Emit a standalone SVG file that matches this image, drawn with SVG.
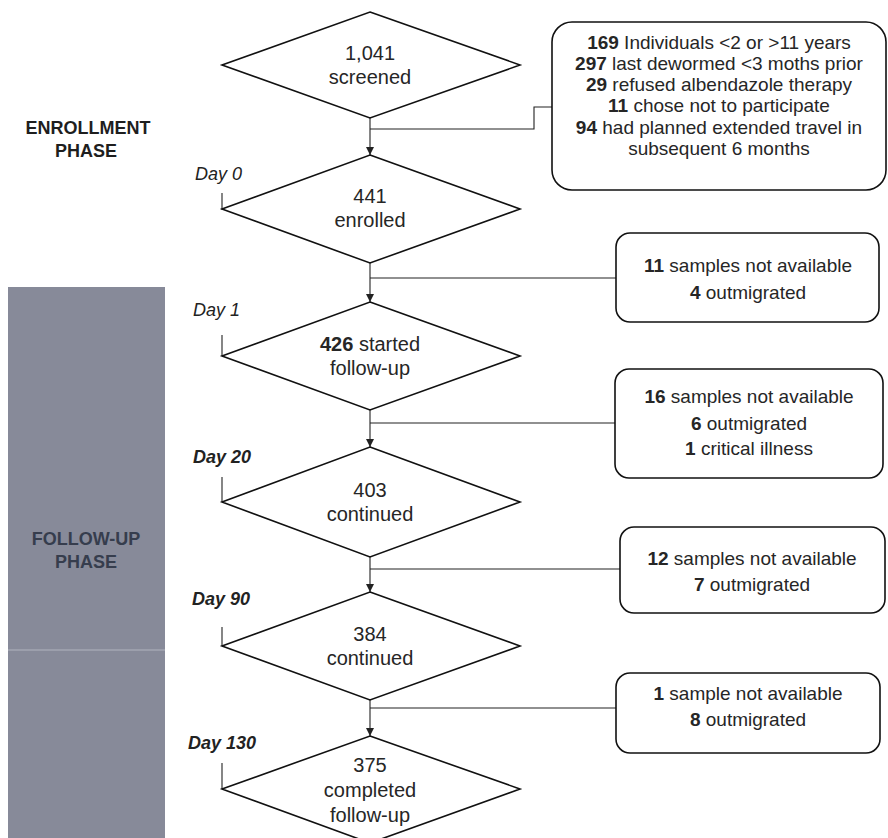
<svg xmlns="http://www.w3.org/2000/svg" width="888" height="838" viewBox="0 0 888 838">
<style>
.d{fill:#fff;stroke:#111;stroke-width:1.6;stroke-linejoin:miter}
.b{fill:#fff;stroke:#111;stroke-width:1.6}
.c{fill:none;stroke:#222;stroke-width:1.1}
.t{font-family:"Liberation Sans",Arial,sans-serif;fill:#262626;text-anchor:middle}
.dt{font-size:20px}
.bt{font-size:19px}
.day{font-family:"Liberation Sans",Arial,sans-serif;font-style:italic;font-size:18px;fill:#222}
.ph{font-family:"Liberation Sans",Arial,sans-serif;font-weight:bold;font-size:18px;text-anchor:middle}
.n{font-weight:bold}
</style>
<defs>
<marker id="ah" viewBox="0 0 10 10" refX="10" refY="5" markerWidth="8" markerHeight="8" markerUnits="userSpaceOnUse" orient="auto">
<path d="M0,0 L10,5 L0,10 Z" fill="#222"/>
</marker>
</defs>
<rect width="888" height="838" fill="#fff"/>

<g id="enrollment-phase">
<text class="ph" x="88" y="134" fill="#1e1e1e">ENROLLMENT</text>
<text class="ph" x="86" y="157" fill="#1e1e1e">PHASE</text>
</g>

<g id="followup-phase">
<rect x="8" y="287" width="157" height="551" fill="#878a99"/>
<line x1="8" y1="650" x2="165" y2="650" stroke="#a3a6b3" stroke-width="1.5"/>
<text class="ph" x="86" y="545" fill="#363d4d">FOLLOW-UP</text>
<text class="ph" x="86" y="568" fill="#363d4d">PHASE</text>
</g>

<g id="connectors">
<line class="c" x1="370" y1="118" x2="370" y2="155" marker-end="url(#ah)"/>
<polyline class="c" points="370,129 534,129 534,107 552,107"/>
<line class="c" x1="370" y1="263" x2="370" y2="302" marker-end="url(#ah)"/>
<line class="c" x1="370" y1="278" x2="616" y2="278"/>
<line class="c" x1="370" y1="410" x2="370" y2="447" marker-end="url(#ah)"/>
<line class="c" x1="370" y1="423" x2="615" y2="423"/>
<line class="c" x1="370" y1="557" x2="370" y2="592" marker-end="url(#ah)"/>
<line class="c" x1="370" y1="569" x2="620" y2="569"/>
<line class="c" x1="370" y1="700" x2="370" y2="736" marker-end="url(#ah)"/>
<line class="c" x1="370" y1="708" x2="616" y2="708"/>
<line class="c" x1="222" y1="193" x2="222" y2="210"/>
<line class="c" x1="222" y1="335" x2="222" y2="356"/>
<line class="c" x1="222" y1="477" x2="222" y2="502"/>
<line class="c" x1="222" y1="627" x2="222" y2="646"/>
<line class="c" x1="222" y1="763" x2="222" y2="789"/>
</g>

<g id="screened">
<polygon class="d" points="370,12 520,65 370,118 222,65"/>
<text class="t dt" x="370" y="60">1,041</text>
<text class="t dt" x="370" y="84">screened</text>
</g>

<g id="exclusions">
<rect class="b" x="552" y="22" width="334" height="168" rx="20"/>
<text class="t bt" x="719" y="49"><tspan class="n">169</tspan> Individuals &lt;2 or &gt;11 years</text>
<text class="t bt" x="719" y="70"><tspan class="n">297</tspan> last dewormed &lt;3 moths prior</text>
<text class="t bt" x="719" y="91"><tspan class="n">29</tspan> refused albendazole therapy</text>
<text class="t bt" x="719" y="112"><tspan class="n">11</tspan> chose not to participate</text>
<text class="t bt" x="719" y="134"><tspan class="n">94</tspan> had planned extended travel in</text>
<text class="t bt" x="719" y="155">subsequent 6 months</text>
</g>

<g id="enrolled">
<text class="day" x="195" y="180">Day 0</text>
<polygon class="d" points="370,155 520,209 370,263 222,209"/>
<text class="t dt" x="370" y="203">441</text>
<text class="t dt" x="370" y="227">enrolled</text>
</g>

<g id="loss1">
<rect class="b" x="616" y="233" width="263" height="89" rx="14"/>
<text class="t bt" x="748" y="272"><tspan class="n">11</tspan> samples not available</text>
<text class="t bt" x="748" y="299"><tspan class="n">4</tspan> outmigrated</text>
</g>

<g id="started">
<text class="day" x="193" y="316">Day 1</text>
<polygon class="d" points="370,302 520,356 370,410 222,356"/>
<text class="t dt" x="370" y="351"><tspan class="n">426</tspan> started</text>
<text class="t dt" x="370" y="375">follow-up</text>
</g>

<g id="loss2">
<rect class="b" x="615" y="369" width="268" height="109" rx="14"/>
<text class="t bt" x="749" y="403"><tspan class="n">16</tspan> samples not available</text>
<text class="t bt" x="749" y="430"><tspan class="n">6</tspan> outmigrated</text>
<text class="t bt" x="749" y="455"><tspan class="n">1</tspan> critical illness</text>
</g>

<g id="continued20">
<text class="day n" x="193" y="463">Day 20</text>
<polygon class="d" points="370,447 520,502 370,557 222,502"/>
<text class="t dt" x="370" y="497">403</text>
<text class="t dt" x="370" y="521">continued</text>
</g>

<g id="loss3">
<rect class="b" x="620" y="527" width="265" height="86" rx="14"/>
<text class="t bt" x="752" y="565"><tspan class="n">12</tspan> samples not available</text>
<text class="t bt" x="752" y="591"><tspan class="n">7</tspan> outmigrated</text>
</g>

<g id="continued90">
<text class="day n" x="192" y="605">Day 90</text>
<polygon class="d" points="370,592 520,646 370,700 222,646"/>
<text class="t dt" x="370" y="641">384</text>
<text class="t dt" x="370" y="665">continued</text>
</g>

<g id="loss4">
<rect class="b" x="616" y="673" width="264" height="80" rx="14"/>
<text class="t bt" x="748" y="700"><tspan class="n">1</tspan> sample not available</text>
<text class="t bt" x="748" y="726"><tspan class="n">8</tspan> outmigrated</text>
</g>

<g id="completed">
<text class="day n" x="188" y="749">Day 130</text>
<polygon class="d" points="370,736 520,789 370,843 222,789"/>
<text class="t dt" x="370" y="772">375</text>
<text class="t dt" x="370" y="797">completed</text>
<text class="t dt" x="370" y="822">follow-up</text>
</g>
</svg>
